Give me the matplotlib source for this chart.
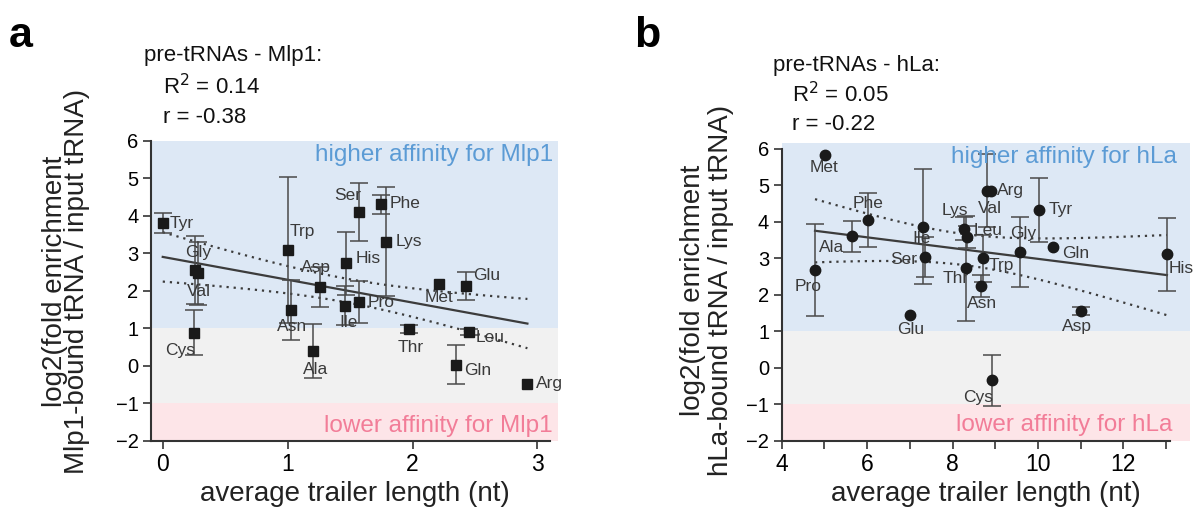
import numpy as np
import matplotlib
matplotlib.use('Agg')
import matplotlib.pyplot as plt

plt.rcParams['font.family'] = ['Liberation Sans', 'DejaVu Sans']

# panel a: pre-tRNAs - Mlp1
a_names = ['Tyr', 'Gly', 'Val', 'Cys', 'Trp', 'Asn', 'Asp', 'Ala', 'His', 'Ile',
           'Ser', 'Pro', 'Phe', 'Lys', 'Thr', 'Met', 'Glu', 'Leu', 'Gln', 'Arg']
a_x = [0.0, 0.26, 0.28, 0.25, 1.0, 1.03, 1.26, 1.20, 1.47, 1.46,
       1.57, 1.57, 1.745, 1.79, 1.97, 2.215, 2.43, 2.45, 2.35, 2.92]
a_y = [3.80, 2.55, 2.47, 0.89, 3.09, 1.50, 2.10, 0.39, 2.74, 1.60,
       4.11, 1.70, 4.31, 3.31, 0.98, 2.19, 2.12, 0.90, 0.03, -0.47]
a_err = [0.27, 0.90, 0.84, 0.60, 1.94, 0.80, 0.53, 0.72, 0.84, 0.52,
         0.77, 0.56, 0.25, 1.45, 0.10, 0.0, 0.37, 0.08, 0.52, 0.0]
a_reps = 3

# panel b: pre-tRNAs - hLa
b_names = ['Met', 'Pro', 'Ala', 'Phe', 'Glu', 'Ile', 'Ser', 'Lys', 'Leu', 'Thr',
           'Trp', 'Asn', 'Cys', 'Arg', 'Val', 'Gly', 'Tyr', 'Gln', 'Asp', 'His']
b_x = [5.01, 4.78, 5.64, 6.01, 7.0, 7.32, 7.35, 8.27, 8.33, 8.31,
       8.71, 8.66, 8.92, 8.89, 8.80, 9.58, 10.02, 10.36, 11.0, 13.02]
b_y = [5.84, 2.68, 3.61, 4.05, 1.45, 3.87, 3.05, 3.82, 3.58, 2.73,
       3.0, 2.24, -0.34, 4.85, 4.85, 3.18, 4.33, 3.32, 1.56, 3.12]
b_err = [0.0, 1.27, 0.42, 0.75, 0.0, 1.58, 0.55, 0.32, 0.3, 1.44,
         0.65, 0.3, 0.7, 0.0, 1.0, 0.96, 0.88, 0.0, 0.1, 1.0]
b_reps = 2

# label offsets in pixels (dx, dy up, ha)
a_offs = {'Tyr': (7, 0, 'left'), 'Gly': (3, 18, 'center'), 'Val': (1, -18, 'center'),
          'Cys': (-14, -18, 'center'), 'Trp': (2, 18, 'left'), 'Asn': (1, -17, 'center'),
          'Asp': (-4, 20, 'center'), 'Ala': (3, -18, 'center'), 'His': (9, 5, 'left'),
          'Ile': (3, -17, 'center'), 'Ser': (-11, 16, 'center'), 'Pro': (9, 0, 'left'),
          'Phe': (9, 1, 'left'), 'Lys': (9, 0, 'left'), 'Thr': (2, -18, 'center'),
          'Met': (0, -14, 'center'), 'Glu': (7, 11, 'left'), 'Leu': (7, -5, 'left'),
          'Gln': (8, -6, 'left'), 'Arg': (9, 0, 'left')}
b_offs = {'Met': (-1, -13, 'center'), 'Pro': (-7, -16, 'center'), 'Ala': (-8, -11, 'right'),
          'Phe': (1, 17, 'center'), 'Glu': (1, -14, 'center'), 'Ile': (-2, -12, 'center'),
          'Ser': (-8, -3, 'right'), 'Lys': (-9, 18, 'center'), 'Leu': (7, 7, 'left'),
          'Thr': (-10, -10, 'center'), 'Trp': (6, -7, 'left'), 'Asn': (1, -17, 'center'),
          'Cys': (-14, -17, 'center'), 'Arg': (6, 0, 'left'), 'Val': (3, -18, 'center'),
          'Gly': (3, 18, 'center'), 'Tyr': (10, 0, 'left'), 'Gln': (9, -7, 'left'),
          'Asp': (-4, -15, 'center'), 'His': (2, -14, 'left')}

T_95 = {38: 2.024, 58: 2.002}  # t(0.975, df)
W, H = 1194, 517

fig = plt.figure(figsize=(W / 100, H / 100), dpi=100)


def draw_panel(rect, x, y, err, reps, names, offs, marker, xlim, ylim, xspine, prot, hi_pos, lo_pos):
    ax = fig.add_axes(rect)
    x = np.array(x)
    y = np.array(y)
    err = np.array(err)
    ax.axhspan(1, ylim[1], color='#dde8f5', lw=0, zorder=0)
    ax.axhspan(-1, 1, color='#f1f1f1', lw=0, zorder=0)
    ax.axhspan(ylim[0], -1, color='#fde5e8', lw=0, zorder=0)

    # linear regression over replicates with 95% confidence band
    xr = np.repeat(x, reps)
    yr = np.repeat(y, reps)
    k, b = np.polyfit(xr, yr, 1)
    xs = np.linspace(x.min(), x.max(), 100)
    n = len(xr)
    resid = yr - (k * xr + b)
    s = np.sqrt(np.sum(resid ** 2) / (n - 2))
    sxx = np.sum((xr - xr.mean()) ** 2)
    se = s * np.sqrt(1.0 / n + (xs - xr.mean()) ** 2 / sxx)
    t = T_95[n - 2]
    ax.plot(xs, k * xs + b, color='#3c3c3c', lw=1.6, zorder=2)
    ax.plot(xs, k * xs + b + t * se, color='#3c3c3c', lw=1.6, ls=(0, (1, 2.2)), zorder=2)
    ax.plot(xs, k * xs + b - t * se, color='#3c3c3c', lw=1.6, ls=(0, (1, 2.2)), zorder=2)

    m = err > 0
    ax.errorbar(x[m], y[m], yerr=err[m], fmt='none', ecolor='#4a4a4a', elinewidth=1.1,
                capsize=6.5, capthick=1.1, zorder=3)
    ax.plot(x, y, marker, color='#1a1a1a', ms=7.5, ls='none', zorder=4)

    for nm, xi, yi in zip(names, x, y):
        dx, dy, ha = offs[nm]
        ax.annotate(nm, (xi, yi), xytext=(dx, dy), textcoords='offset pixels',
                    ha=ha, va='center', fontsize=12.5, color='#3a3a3a', zorder=5)

    ax.text(hi_pos[0], hi_pos[1], 'higher affinity for ' + prot,
            transform=ax.transAxes, ha='right', va='center', fontsize=17.5, color='#5b9bd5')
    ax.text(lo_pos[0], lo_pos[1], 'lower affinity for ' + prot,
            transform=ax.transAxes, ha='right', va='center', fontsize=17.5, color='#f27d98')

    ax.set_xlim(*xlim)
    ax.set_ylim(*ylim)
    ax.set_yticks(range(-2, 7))
    for sp in ['top', 'right']:
        ax.spines[sp].set_visible(False)
    for sp in ['left', 'bottom']:
        ax.spines[sp].set_color('#333333')
        ax.spines[sp].set_linewidth(1.5)
    ax.spines['left'].set_bounds(-2, 6)
    ax.spines['bottom'].set_bounds(*xspine)
    ax.tick_params(axis='y', length=6, width=1.2, color='#333333', labelsize=14.5, pad=3)
    ax.tick_params(axis='x', which='both', length=5.5, width=1.2, color='#333333',
                   labelsize=16.5, pad=3)
    return ax


axa = draw_panel([151 / W, 76 / H, 407 / W, 300.3 / H], a_x, a_y, a_err, a_reps, a_names, a_offs,
                 's', (-0.094, 3.165), (-2, 6), (-0.094, 3.1), 'Mlp1',
                 (0.988, 0.952), (0.988, 0.05))
axa.set_xticks([0, 1, 2, 3])

axb = draw_panel([781.7 / W, 76 / H, 408.3 / W, 298.3 / H], b_x, b_y, b_err, b_reps, b_names, b_offs,
                 'o', (4, 13.56), (-2, 6.17), (4, 13.1), 'hLa',
                 (0.967, 0.953), (0.958, 0.054))
axb.set_xticks([4, 6, 8, 10, 12])
axb.set_xticks([5, 7, 9, 11, 13], minor=True)

for ax in (axa, axb):
    ax.set_xlabel('average trailer length (nt)', fontsize=20, color='#222222', labelpad=4)

fig.text(66 / W, 1 - 281 / H, 'log2(fold enrichment\nMlp1-bound tRNA / input tRNA)',
         rotation=90, ha='center', va='center', fontsize=20, color='#222222',
         linespacing=0.85)
fig.text(707 / W, 1 - 290 / H, 'log2(fold enrichment\nhLa-bound tRNA / input tRNA)',
         rotation=90, ha='center', va='center', fontsize=20, color='#222222',
         linespacing=1.15)

fig.text(9 / W, 1 - 47 / H, 'a', fontsize=31, fontweight='bold', va='baseline')
fig.text(634 / W, 1 - 47 / H, 'b', fontsize=31, fontweight='bold', va='baseline')

fig.text(144 / W, 1 - 61 / H, 'pre-tRNAs - Mlp1:', fontsize=16, va='baseline', color='#111111')
fig.text(163 / W, 1 - 94 / H, r'R$^2$ = 0.14', fontsize=16, va='baseline', color='#111111')
fig.text(163 / W, 1 - 123 / H, 'r = -0.38', fontsize=16, va='baseline', color='#111111')
fig.text(773 / W, 1 - 71 / H, 'pre-tRNAs - hLa:', fontsize=16, va='baseline', color='#111111')
fig.text(792 / W, 1 - 102 / H, r'R$^2$ = 0.05', fontsize=16, va='baseline', color='#111111')
fig.text(792 / W, 1 - 130 / H, 'r = -0.22', fontsize=16, va='baseline', color='#111111')

fig.savefig('out.png', dpi=100)
